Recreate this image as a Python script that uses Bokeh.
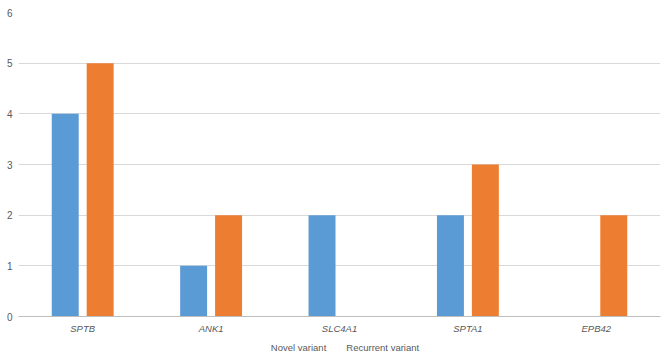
from bokeh.plotting import figure
from bokeh.models import ColumnDataSource, Legend, LegendItem, FactorRange
from bokeh.layouts import column
from bokeh.transform import dodge
from bokeh.embed import file_html
from bokeh.resources import INLINE

genes = ["SPTB", "ANK1", "SLC4A1", "SPTA1", "EPB42"]
novel = [4, 1, 2, 2, 0]
recurrent = [5, 2, 0, 3, 2]
y_ticks = [0, 1, 2, 3, 4, 5, 6]
series_names = ["Novel variant", "Recurrent variant"]
series_colors = ["#5B9BD5", "#ED7D31"]

src = ColumnDataSource(dict(gene=genes, novel=novel, recurrent=recurrent))

main = figure(width=670, height=336, x_range=FactorRange(*genes), y_range=(0, 6),
              output_backend="svg", toolbar_location=None,
              min_border_left=18, min_border_right=10, min_border_top=12, min_border_bottom=18)
main.outline_line_color = None
main.border_fill_color = "white"

main.vbar(x=dodge("gene", -0.136, range=main.x_range), top="novel", width=0.21,
          source=src, fill_color=series_colors[0], line_color=None)
main.vbar(x=dodge("gene", 0.136, range=main.x_range), top="recurrent", width=0.21,
          source=src, fill_color=series_colors[1], line_color=None)

main.xgrid.grid_line_color = None
main.ygrid.grid_line_color = "#d9d9d9"

main.yaxis.ticker = y_ticks
main.yaxis.axis_line_color = None
main.yaxis.major_tick_line_color = None
main.yaxis.major_tick_out = 0
main.yaxis.minor_tick_line_color = None
main.yaxis.minor_tick_out = 0
main.yaxis.major_label_standoff = 6
main.yaxis.major_label_text_font = "Liberation Sans"
main.yaxis.major_label_text_font_size = "10px"
main.yaxis.major_label_text_color = "#595959"

main.xaxis.axis_line_color = "#bfbfbf"
main.xaxis.major_tick_line_color = None
main.xaxis.major_tick_out = 0
main.xaxis.major_label_standoff = 6
main.xaxis.major_label_text_font = "Liberation Sans"
main.xaxis.major_label_text_font_size = "9.5px"
main.xaxis.major_label_text_font_style = "italic"
main.xaxis.major_label_text_color = "#595959"

# Legend strip below the chart
leg_fig = figure(width=670, height=22, output_backend="svg", toolbar_location=None,
                 x_axis_type=None, y_axis_type=None, min_border=0)
leg_fig.outline_line_color = None
leg_fig.xgrid.grid_line_color = None
leg_fig.ygrid.grid_line_color = None
empty = ColumnDataSource(dict(x=[], y=[]))
items = []
for name, col in zip(series_names, series_colors):
    r = leg_fig.square(x="x", y="y", source=empty, fill_color=col, line_color=None)
    items.append(LegendItem(label=name, renderers=[r]))

legend = Legend(items=items, orientation="horizontal", location="center")
legend.label_text_font = "Liberation Sans"
legend.label_text_font_size = "9.5px"
legend.label_text_color = "#595959"
legend.glyph_width = 9
legend.glyph_height = 9
legend.label_standoff = 3
legend.label_height = 10
legend.spacing = 8
legend.padding = 1
legend.margin = 0
legend.border_line_color = None
legend.background_fill_alpha = 0
leg_fig.add_layout(legend, "center")

layout = column(main, leg_fig, spacing=0)

open("out.html", "w").write(file_html(layout, INLINE))
